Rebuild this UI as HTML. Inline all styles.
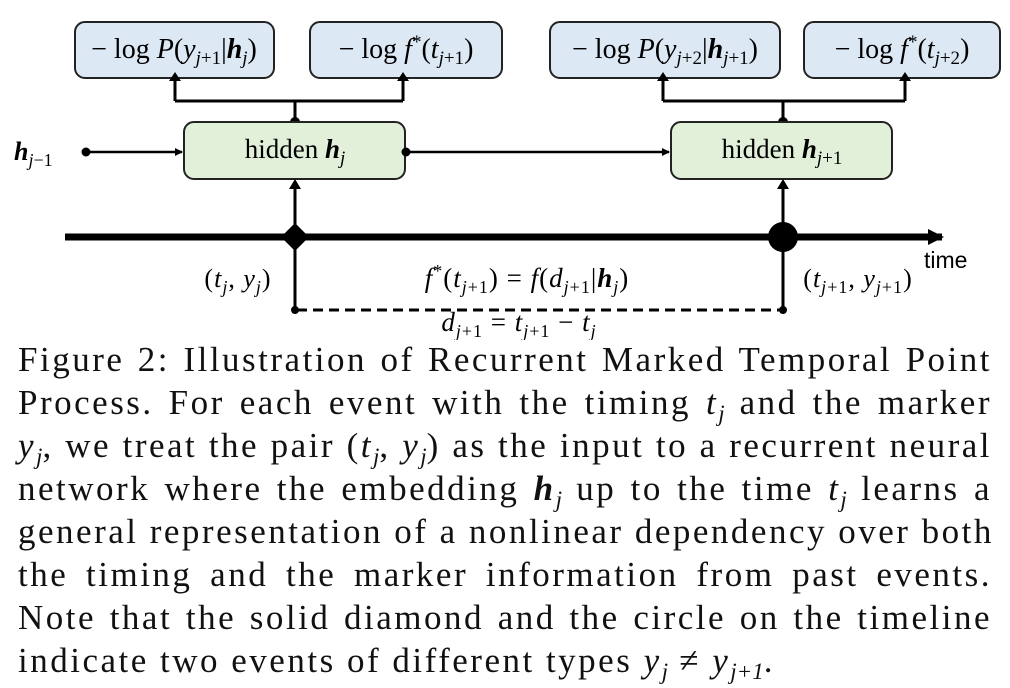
<!DOCTYPE html>
<html><head><meta charset="utf-8"><style>
body{margin:0;background:#fff;}
#root{position:relative;width:1010px;height:688px;overflow:hidden;background:#fff;font-family:"Liberation Serif",serif;color:#111;}
svg{position:absolute;left:0;top:0;}
.m{font-family:"Liberation Serif",serif;}
.cap{position:absolute;left:18px;width:974px;font-size:35px;line-height:43px;letter-spacing:2.5px;}
.cap div{height:43px;text-align:justify;text-align-last:justify;white-space:nowrap;}
.cap div.last{text-align-last:left;}
i{font-style:italic;}
s{text-decoration:none;font-style:italic;font-size:23px;line-height:0;position:relative;top:7px;letter-spacing:0;}
</style></head><body>
<div id="root">
<svg width="1010" height="340">
<defs>
<marker id="ah" markerWidth="8" markerHeight="8" refX="7" refY="4" orient="auto" markerUnits="userSpaceOnUse"><path d="M0,0 L8,4 L0,8 z" fill="#000"/></marker>
<marker id="ahb" markerWidth="16" markerHeight="16" refX="14" refY="8" orient="auto" markerUnits="userSpaceOnUse"><path d="M0,0 L16,8 L0,16 z" fill="#000"/></marker>
</defs>
<g><rect x="75" y="22" width="199" height="56" rx="10" fill="#dde8f5" stroke="#222" stroke-width="2"/>
<text x="174" y="58" text-anchor="middle" font-size="28" class="m">− log <tspan font-style="italic">P</tspan>(<tspan font-style="italic">y</tspan><tspan font-size="19" dy="6" font-style="italic">j</tspan><tspan font-size="19">+1</tspan><tspan dy="-6">|</tspan><tspan font-weight="bold" font-style="italic">h</tspan><tspan font-size="19" dy="6" font-style="italic">j</tspan><tspan dy="-6">)</tspan></text></g>
<g><rect x="310" y="22" width="192" height="56" rx="10" fill="#dde8f5" stroke="#222" stroke-width="2"/>
<text x="406" y="58" text-anchor="middle" font-size="28" class="m">− log <tspan font-style="italic">f</tspan><tspan font-size="19" dy="-10">*</tspan><tspan dy="10">(</tspan><tspan font-style="italic">t</tspan><tspan font-size="19" dy="6" font-style="italic">j</tspan><tspan font-size="19">+1</tspan><tspan dy="-6">)</tspan></text></g>
<g><rect x="550" y="22" width="230" height="56" rx="10" fill="#dde8f5" stroke="#222" stroke-width="2"/>
<text x="665" y="58" text-anchor="middle" font-size="28" class="m">− log <tspan font-style="italic">P</tspan>(<tspan font-style="italic">y</tspan><tspan font-size="19" dy="6" font-style="italic">j</tspan><tspan font-size="19">+2</tspan><tspan dy="-6">|</tspan><tspan font-weight="bold" font-style="italic">h</tspan><tspan font-size="19" dy="6" font-style="italic">j</tspan><tspan font-size="19">+1</tspan><tspan dy="-6">)</tspan></text></g>
<g><rect x="804" y="22" width="196" height="56" rx="10" fill="#dde8f5" stroke="#222" stroke-width="2"/>
<text x="902" y="58" text-anchor="middle" font-size="28" class="m">− log <tspan font-style="italic">f</tspan><tspan font-size="19" dy="-10">*</tspan><tspan dy="10">(</tspan><tspan font-style="italic">t</tspan><tspan font-size="19" dy="6" font-style="italic">j</tspan><tspan font-size="19">+2</tspan><tspan dy="-6">)</tspan></text></g>
<g stroke="#000" stroke-width="3" fill="none">
<path d="M295,122 V101 M175,101 H403 M175,101 V80 M403,101 V80" />
<path d="M783,122 V101 M663,101 H905 M663,101 V80 M905,101 V80" />
</g>
<g fill="#000"><path d="M169,81 L175,72 L181,81z M397,81 L403,72 L409,81z M657,81 L663,72 L669,81z M899,81 L905,72 L911,81z"/>
<circle cx="295" cy="122" r="5"/><circle cx="783" cy="122" r="5"/></g>
<g><rect x="184" y="122" width="221" height="57" rx="10" fill="#e2efd9" stroke="#222" stroke-width="2"/>
<text x="295" y="158" text-anchor="middle" font-size="27" class="m">hidden <tspan font-weight="bold" font-style="italic">h</tspan><tspan font-size="19" dy="6" font-style="italic">j</tspan></text></g>
<g><rect x="671" y="122" width="221" height="57" rx="10" fill="#e2efd9" stroke="#222" stroke-width="2"/>
<text x="782" y="158" text-anchor="middle" font-size="27" class="m">hidden <tspan font-weight="bold" font-style="italic">h</tspan><tspan font-size="19" dy="6" font-style="italic">j</tspan><tspan font-size="19">+1</tspan></text></g>
<text x="14" y="160" font-size="26" class="m"><tspan font-weight="bold" font-style="italic">h</tspan><tspan font-size="18" dy="6" font-style="italic">j</tspan><tspan font-size="18">−1</tspan></text>
<circle cx="86" cy="152" r="4.5" fill="#000"/>
<line x1="86" y1="152" x2="182" y2="152" stroke="#000" stroke-width="2.5" marker-end="url(#ah)"/>
<circle cx="406" cy="152" r="4.5" fill="#000"/>
<line x1="406" y1="152" x2="669" y2="152" stroke="#000" stroke-width="2.5" marker-end="url(#ah)"/>
<line x1="65" y1="237" x2="942" y2="237" stroke="#000" stroke-width="7" marker-end="url(#ahb)"/>
<text x="924" y="268" font-size="23" font-family="Liberation Sans,sans-serif">time</text>
<g stroke="#000" stroke-width="3"><line x1="295" y1="310" x2="295" y2="182"/><line x1="783" y1="310" x2="783" y2="182"/></g>
<g fill="#000"><path d="M289,189 L295,179 L301,189z M777,189 L783,179 L789,189z"/>
<path d="M295,223 L309,237 L295,251 L281,237z"/>
<circle cx="783" cy="237" r="15"/>
<circle cx="295" cy="310" r="4"/><circle cx="783" cy="310" r="4"/></g>
<line x1="297" y1="310" x2="781" y2="310" stroke="#000" stroke-width="3" stroke-dasharray="10,6"/>
<text x="238" y="287" text-anchor="middle" font-size="26" class="m" letter-spacing="1">(<tspan font-style="italic">t</tspan><tspan font-size="18" dy="6" font-style="italic">j</tspan><tspan dy="-6">, </tspan><tspan font-style="italic">y</tspan><tspan font-size="18" dy="6" font-style="italic">j</tspan><tspan dy="-6">)</tspan></text>
<text x="527" y="287" text-anchor="middle" font-size="27" class="m" letter-spacing="1"><tspan font-style="italic">f</tspan><tspan font-size="18" dy="-10">*</tspan><tspan dy="10">(</tspan><tspan font-style="italic">t</tspan><tspan font-size="18" dy="6" font-style="italic">j</tspan><tspan font-size="18">+1</tspan><tspan dy="-6">) = </tspan><tspan font-style="italic">f</tspan>(<tspan font-style="italic">d</tspan><tspan font-size="18" dy="6" font-style="italic">j</tspan><tspan font-size="18">+1</tspan><tspan dy="-6">|</tspan><tspan font-weight="bold" font-style="italic">h</tspan><tspan font-size="18" dy="6" font-style="italic">j</tspan><tspan dy="-6">)</tspan></text>
<text x="858" y="287" text-anchor="middle" font-size="26" class="m" letter-spacing="1">(<tspan font-style="italic">t</tspan><tspan font-size="18" dy="6" font-style="italic">j</tspan><tspan font-size="18">+1</tspan><tspan dy="-6">, </tspan><tspan font-style="italic">y</tspan><tspan font-size="18" dy="6" font-style="italic">j</tspan><tspan font-size="18">+1</tspan><tspan dy="-6">)</tspan></text>
<text x="519" y="331" text-anchor="middle" font-size="27" class="m" letter-spacing="1"><tspan font-style="italic">d</tspan><tspan font-size="18" dy="6" font-style="italic">j</tspan><tspan font-size="18">+1</tspan><tspan dy="-6"> = </tspan><tspan font-style="italic">t</tspan><tspan font-size="18" dy="6" font-style="italic">j</tspan><tspan font-size="18">+1</tspan><tspan dy="-6"> − </tspan><tspan font-style="italic">t</tspan><tspan font-size="18" dy="6" font-style="italic">j</tspan></text>
</svg>
<div class="cap" style="top:338px">
<div>Figure 2: Illustration of Recurrent Marked Temporal Point</div>
<div>Process. For each event with the timing <i>t<s>j</s></i> and the marker</div>
<div><i>y<s>j</s></i>, we treat the pair (<i>t<s>j</s></i>, <i>y<s>j</s></i>) as the input to a recurrent neural</div>
<div>network where the embedding <b><i>h</i></b><s>j</s> up to the time <i>t<s>j</s></i> learns a</div>
<div>general representation of a nonlinear dependency over both</div>
<div>the timing and the marker information from past events.</div>
<div>Note that the solid diamond and the circle on the timeline</div>
<div class="last">indicate two events of different types <i>y<s>j</s></i> ≠ <i>y<s>j+1</s></i>.</div>
</div>
</div>
</body></html>
